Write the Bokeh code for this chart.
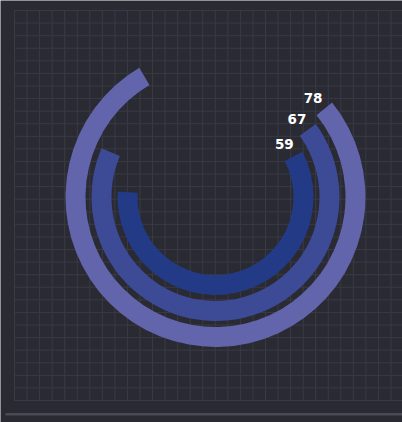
import math
from bokeh.plotting import figure
from bokeh.models import Range1d, ColumnDataSource
from bokeh.core.properties import value
from bokeh.embed import file_html
from bokeh.resources import INLINE

# ---- data ----
series = ["A", "B", "C"]
values = [78, 67, 59]
labels = ["78", "67", "59"]

# ---- styling / layout ----
colors = ["#6264ac", "#3d4a96", "#233b86"]
BG = "#2a2a33"
GRID = "#3a3a46"
W, H = 402, 422

p = figure(width=W, height=H, output_backend="svg", toolbar_location=None,
           x_range=Range1d(0, W), y_range=Range1d(0, H),
           x_axis_location=None, y_axis_location=None,
           min_border=0, background_fill_color=BG, border_fill_color=BG,
           outline_line_color=None)
p.grid.visible = False

# background grid (decoration)
gx0, gy_top, gy_bot = 14, 10, 400
dx = 12.55
ny = 31
dy = (gy_bot - gy_top) / ny
xs0, ys0, xs1, ys1 = [], [], [], []
k = 0
while gx0 + k * dx <= W + 2:
    x = gx0 + k * dx
    xs0.append(x); xs1.append(x); ys0.append(H - gy_top); ys1.append(H - gy_bot)
    k += 1
for k in range(ny + 1):
    y = H - (gy_top + k * dy)
    xs0.append(gx0); xs1.append(W); ys0.append(y); ys1.append(y)
p.segment(x0=xs0, y0=ys0, x1=xs1, y1=ys1, line_color=GRID, line_width=1)

# bottom divider bar
p.quad(left=[5], right=[W], bottom=[H - 415], top=[H - 412.5], fill_color="#4a4a56", line_color=None)

# ---- radial bars ----
cx, cy = 215, H - 196.5
outer_r = [150, 124, 98]
thick = 20
inner_r = [r - thick for r in outer_r]
deg_per_unit = 3.57               # angular scale
start_deg = [39.0, 36.0, 27.5]    # where each ring's bar begins (it sweeps clockwise)

starts, ends = [], []
for v, s in zip(values, start_deg):
    span = v * deg_per_unit
    starts.append(math.radians(s - span))   # far end
    ends.append(math.radians(s))            # labelled end

src = ColumnDataSource(dict(x=[cx] * 3, y=[cy] * 3, ir=inner_r, orr=outer_r,
                            sa=starts, ea=ends, color=colors))
p.annular_wedge(x="x", y="y", inner_radius="ir", outer_radius="orr",
                start_angle="sa", end_angle="ea", direction="anticlock",
                fill_color="color", line_color=None, source=src)

# labels just past the start of each bar
lx, ly = [], []
for e, ro in zip(ends, outer_r):
    rm = ro - thick / 2 - 1
    a = e + 15.5 / rm
    lx.append(cx + rm * math.cos(a))
    ly.append(cy + rm * math.sin(a))
p.text(x=lx, y=ly, text=labels, text_color="white", text_font=value("DejaVu Sans"),
       text_font_style="bold", text_font_size="13.5px", text_align="center",
       text_baseline="middle")

open("out.html", "w").write(file_html(p, INLINE))
